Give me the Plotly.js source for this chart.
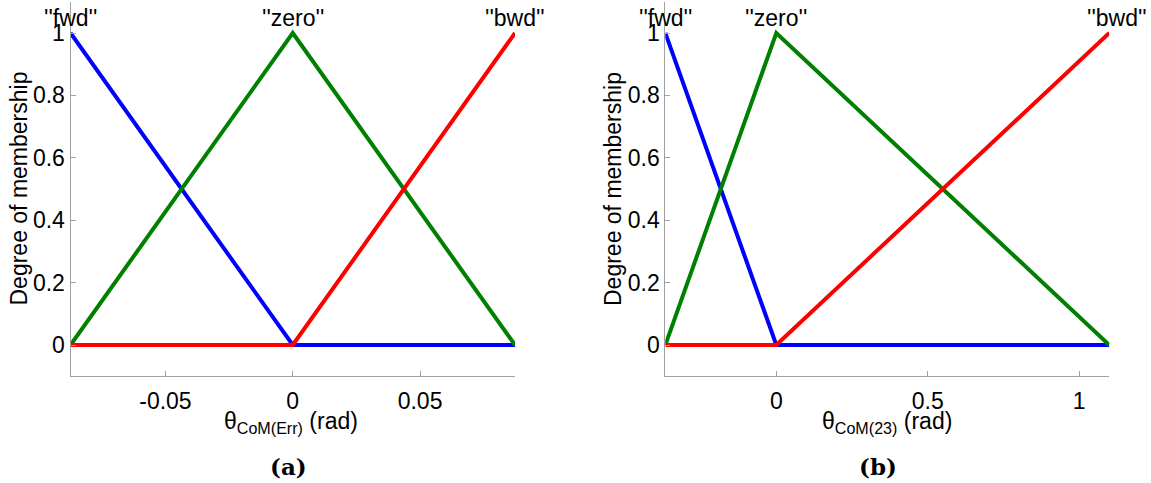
<!DOCTYPE html>
<html>
<head>
<meta charset="utf-8">
<script src="https://cdn.plot.ly/plotly-3.0.1.min.js"></script>
<style>html,body{margin:0;padding:0;background:#fff;}#chart{width:1151px;height:483px;}</style>
</head>
<body>
<div id="chart"></div>
<script>
// Panel (a): theta_CoM(Err) membership functions
const xLeft = [-0.0873, 0, 0.0873];
const fwdLeft = [1, 0, 0];
const zeroLeft = [0, 1, 0];
const bwdLeft = [0, 0, 1];

// Panel (b): theta_CoM(23) membership functions
const xRight = [-0.3665, 0, 1.0996];
const fwdRight = [1, 0, 0];
const zeroRight = [0, 1, 0];
const bwdRight = [0, 0, 1];

const labels = ["''fwd''", "''zero''", "''bwd''"];
const yTicks = [0, 0.2, 0.4, 0.6, 0.8, 1];
const yTickText = ['0', '0.2', '0.4', '0.6', '0.8', '1'];
const xTicksLeft = [-0.05, 0, 0.05];
const xTickTextLeft = ['-0.05', '0', '0.05'];
const xTicksRight = [0, 0.5, 1];
const xTickTextRight = ['0', '0.5', '1'];

const colors = ['#0000ff', '#008000', '#ff0000'];
const W = 1151, H = 483;
const FONT = 'Liberation Sans, Arial, Helvetica, sans-serif';
const FS = 23;

function line(x, y, c, xa, ya) {
  return {x: x, y: y, type: 'scatter', mode: 'lines', xaxis: xa, yaxis: ya,
    line: {color: c, width: 4}, cliponaxis: false, hoverinfo: 'none', showlegend: false};
}

const data = [
  line(xLeft, fwdLeft, colors[0], 'x', 'y'),
  line(xLeft, zeroLeft, colors[1], 'x', 'y'),
  line(xLeft, bwdLeft, colors[2], 'x', 'y'),
  line(xRight, fwdRight, colors[0], 'x2', 'y2'),
  line(xRight, zeroRight, colors[1], 'x2', 'y2'),
  line(xRight, bwdRight, colors[2], 'x2', 'y2')
];

const yDom = [(H - 376.2) / H, (H - 1.8) / H];
function xax(dom, range, tv, tt) {
  return {domain: dom, range: range, tickvals: tv, ticktext: tt,
    showline: true, linecolor: '#a0a0a0', linewidth: 1, mirror: false,
    ticks: 'inside', ticklen: 5, tickcolor: '#a0a0a0', tickwidth: 1,
    showgrid: false, zeroline: false, ticklabelstandoff: 4,
    tickfont: {family: FONT, size: FS, color: '#000'}, fixedrange: true};
}
function yax(anchor) {
  return {domain: yDom, range: [-0.1, 1.1], anchor: anchor, tickvals: yTicks, ticktext: yTickText,
    showline: true, linecolor: '#a0a0a0', linewidth: 1, mirror: false,
    ticks: 'inside', ticklen: 5, tickcolor: '#a0a0a0', tickwidth: 1,
    showgrid: false, zeroline: false, ticklabelstandoff: 0,
    tickfont: {family: FONT, size: FS, color: '#000'}, fixedrange: true};
}

const ann = [];
function lab(text, x, xa, ya, xs) {
  ann.push({text: text, x: x, y: 1, xref: xa, yref: ya, xanchor: 'center', yanchor: 'bottom',
    yshift: 0, xshift: xs || 0, showarrow: false, font: {family: FONT, size: FS, color: '#000'}});
}
lab(labels[0], xLeft[0], 'x', 'y');
lab(labels[1], xLeft[1], 'x', 'y');
lab(labels[2], xLeft[2], 'x', 'y');
lab(labels[0], xRight[0], 'x2', 'y2');
lab(labels[1], xRight[1], 'x2', 'y2');
lab(labels[2], xRight[2], 'x2', 'y2', 8);

function pt(text, px, py, opts) {
  ann.push(Object.assign({text: text, x: px / W, y: (H - py) / H, xref: 'paper', yref: 'paper',
    xanchor: 'center', yanchor: 'middle', showarrow: false,
    font: {family: FONT, size: FS, color: '#000'}}, opts || {}));
}
pt('Degree of membership', 18.5, 189, {textangle: -90});
pt('Degree of membership', 613, 189, {textangle: -90});
pt('θ<sub>CoM(Err)</sub> (rad)', 291, 422);
pt('θ<sub>CoM(23)</sub> (rad)', 887, 422);
pt('<b>(a)</b>', 289, 466, {font: {family: 'DejaVu Serif, serif', size: 23, color: '#000'}});
pt('<b>(b)</b>', 878, 466, {font: {family: 'DejaVu Serif, serif', size: 23, color: '#000'}});

const layout = {
  width: W, height: H, margin: {l: 0, r: 0, t: 0, b: 0},
  paper_bgcolor: '#fff', plot_bgcolor: '#fff', showlegend: false,
  xaxis: xax([70.5 / W, 515 / W], [-0.0873, 0.0873], xTicksLeft, xTickTextLeft),
  yaxis: yax('x'),
  xaxis2: Object.assign(xax([665.3 / W, 1109.3 / W], [-0.3665, 1.0996], xTicksRight, xTickTextRight), {anchor: 'y2'}),
  yaxis2: yax('x2'),
  annotations: ann
};
layout.xaxis.anchor = 'y';

Plotly.newPlot('chart', data, layout, {staticPlot: true, displayModeBar: false});
</script>
</body>
</html>
